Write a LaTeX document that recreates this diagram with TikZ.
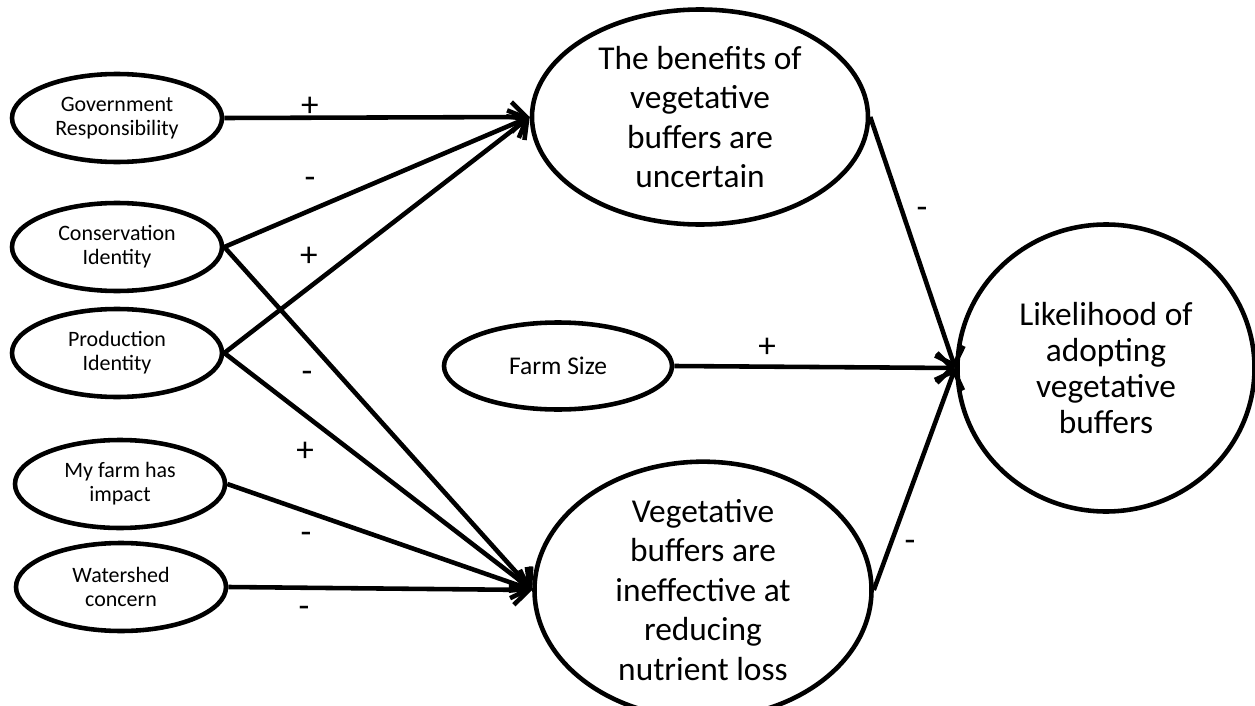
\documentclass[tikz,border=0pt]{standalone}
\usepackage{fontspec}
\setmainfont{Carlito}
\usepackage{tikz}
\usetikzlibrary{arrows.meta, positioning, shapes.geometric}

\begin{document}
\begin{tikzpicture}[
      line width=2.6pt,
      factor/.style={draw, ellipse, minimum width=4.2cm, minimum height=1.76cm,
                     inner sep=0pt, align=center, font=\fontsize{12.5}{13.5}\selectfont},
      belief/.style={draw, ellipse, minimum width=6.72cm, minimum height=4.4cm,
                     inner sep=0pt, align=center, font=\fontsize{19}{22.5}\selectfont},
      a/.style={-{Straight Barb[length=3mm, width=6mm]}},
      sgn/.style={font=\fontsize{20}{20}\selectfont, inner sep=0pt},
    ]
    \useasboundingbox (0,0) rectangle (25.1,14.1);

    % ---- predictors (left column) ----
    \node[factor] (gov)    at (2.34,11.74) {Government\\Responsibility};
    \node[factor] (cons)   at (2.34,9.16)  {Conservation\\Identity};
    \node[factor] (prod)   at (2.34,7.04)  {Production\\Identity};
    \node[factor] (impact) at (2.40,4.42)  {My farm has\\impact};
    \node[factor] (water)  at (2.42,2.36)  {Watershed\\concern};

    % ---- beliefs (middle column) ----
    \node[belief, minimum height=4.3cm] (uncert) at (14.0,11.76)
          {The benefits of\\vegetative\\buffers are\\uncertain};
    \node[factor, minimum width=4.56cm, minimum height=1.74cm,
          font=\fontsize{14.5}{16}\selectfont] (size) at (11.16,6.78) {Farm Size};
    \node[belief, minimum width=6.74cm, minimum height=4.52cm] (ineff) at (14.06,2.30)
          {Vegetative\\buffers are\\ineffective at\\reducing\\nutrient loss};

    % ---- outcome ----
    \node[belief, minimum width=5.94cm, minimum height=5.74cm,
          font=\fontsize{19}{20.5}\selectfont] (adopt) at (22.12,6.74)
          {Likelihood of\\adopting\\vegetative\\buffers};

    % ---- arcs ----
    \draw[a] (gov.east) -- (uncert.west);
    \draw[a] (cons.east) -- (uncert.west);
    \draw[a] (prod.east) -- (uncert.west);
    \draw[a] (cons.east) -- (ineff.west);
    \draw[a] (prod.east) -- (ineff.west);
    \draw[a] (impact.east) -- (ineff.west);
    \draw[a] (water.east) -- (ineff.west);
    \draw[a] (size.east) -- (adopt.west);
    \draw[a] (uncert.east) -- (adopt.west);
    \draw[a] (ineff.east) -- (adopt.west);

    % ---- signs ----
    \node[sgn] (s1)  at (6.20,11.96) {+};
    \node[sgn] (s2)  at (6.20,10.44) {-};
    \node[sgn] (s3)  at (6.18,8.96)  {+};
    \node[sgn] (s4)  at (6.14,6.56)  {-};
    \node[sgn] (s5)  at (6.10,5.06)  {+};
    \node[sgn] (s6)  at (6.12,3.34)  {-};
    \node[sgn] (s7)  at (6.08,1.86)  {-};
    \node[sgn] (s8)  at (15.34,7.14) {+};
    \node[sgn] (s9)  at (18.44,9.84) {-};
    \node[sgn] (s10) at (18.20,3.18) {-};
  \end{tikzpicture}
\end{document}
